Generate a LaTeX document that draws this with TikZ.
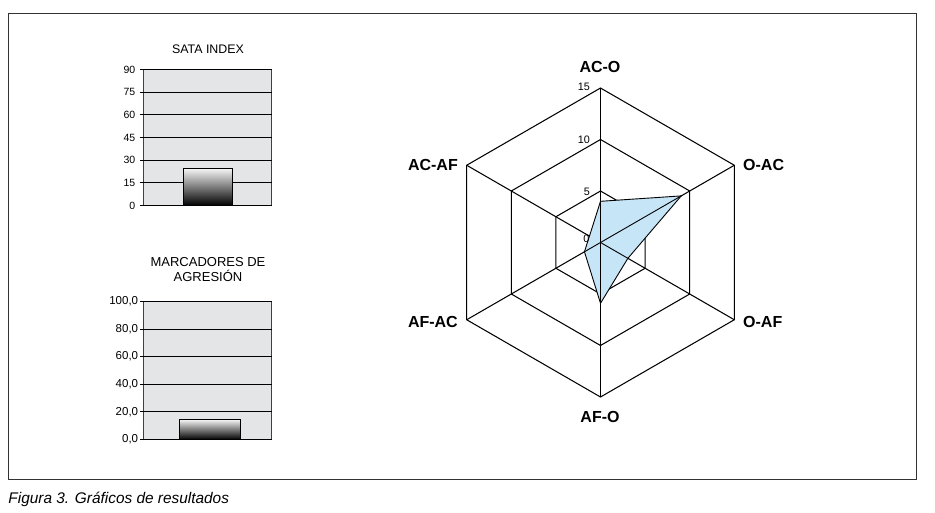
\documentclass[tikz,border=0pt]{standalone}
\usepackage{fontspec}
\setmainfont{Liberation Sans}
\usetikzlibrary{calc}
\definecolor{plotbg}{HTML}{E4E5E7}
\definecolor{datafill}{HTML}{C6E5F6}
\tikzset{
  plotarea/.style={fill=plotbg, draw=black!75, line width=1pt},
  gridln/.style={draw=black, line width=1pt},
  barbox/.style={draw=black, line width=1pt, top color=gray!8, bottom color=black},
  ticklab/.style={anchor=east, inner sep=0pt, font=\fontsize{10.5}{12}\selectfont},
  ticklabb/.style={anchor=east, inner sep=0pt, font=\fontsize{11.5}{13}\selectfont},
  charttitle/.style={inner sep=0pt, align=center, font=\fontsize{12.4}{15}\selectfont},
  radarln/.style={draw=black, line width=1.05pt},
  axlab/.style={inner sep=0pt, font=\fontsize{16}{18}\selectfont\bfseries},
  rtick/.style={anchor=east, inner sep=0pt, font=\fontsize{10.8}{12}\selectfont},
  datapoly/.style={fill=datafill, draw=black, line width=0.9pt, line join=miter},
  framebox/.style={draw=black!80, line width=1pt},
}
\begin{document}
\begin{tikzpicture}[x=1pt,y=-1pt]
\useasboundingbox (0,0) rectangle (935,512);
\fill[white] (0,0) rectangle (935,512);
% frame
\draw[framebox] (8.5,13.5) rectangle (916.5,479.5);
\node[anchor=base west, inner sep=0pt, font=\fontsize{15.4}{17}\selectfont\itshape] (caption) at (8.3,503.3) {Figura 3. Gráficos de resultados};

% ---------- SATA INDEX chart ----------
\node[charttitle] (t1) at (208,49) {SATA INDEX};
\draw[plotarea] (143.5,69.5) rectangle (271.5,205.5);
\foreach \v in {0,15,...,90} {
  \pgfmathsetmacro{\yy}{205.5-\v*136/90}
  \draw[gridln] (140,\yy) -- (271.5,\yy);
  \node[ticklab] at (135.5,\yy) {\v};
}
\draw[barbox] (183.5,168.5) rectangle (232.5,205.5);
\draw[gridln] (140,205.5) -- (271.5,205.5);

% ---------- MARCADORES chart ----------
\node[charttitle, font=\fontsize{13}{15}\selectfont] (t2) at (208,269.2) {MARCADORES DE\\AGRESIÓN};
\draw[plotarea] (143.5,301.5) rectangle (271.5,439.5);
\foreach \v/\lab in {0/{0,0},20/{20,0},40/{40,0},60/{60,0},80/{80,0},100/{100,0}} {
  \pgfmathsetmacro{\yy}{439.5-\v*138/100}
  \draw[gridln] (140,\yy) -- (271.5,\yy);
  \node[ticklabb] at (138.3,\yy) {\lab};
}
\draw[barbox] (179.5,419.5) rectangle (240.5,439.5);
\draw[gridln] (140,439.5) -- (271.5,439.5);

% ---------- Radar chart ----------
\begin{scope}[shift={(600.5,242.5)}]
  \coordinate (C) at (0,0);
  \foreach \i/\a in {1/-90,2/-30,3/30,4/90,5/150,6/210} {
    \coordinate (V\i) at (\a:154.5);
  }
  \foreach \r in {5,10,15} {
    \pgfmathsetmacro{\rr}{\r*10.3}
    \draw[radarln] (-90:\rr) -- (-30:\rr) -- (30:\rr) -- (90:\rr) -- (150:\rr) -- (210:\rr) -- cycle;
  }
  \foreach \i in {1,...,6} { \draw[radarln] (C) -- (V\i); }
  % data polygon
  \draw[datapoly] (-90:4*10.3) -- (-30:9.05*10.3) -- (30:3.07*10.3) -- (90:5.9*10.3) -- (150:1.8*10.3) -- (210:1.24*10.3) -- cycle;
  \draw[radarln, line width=0.9pt] (C) -- (-30:9.05*10.3);
  \draw[radarln, line width=0.9pt] (C) -- (90:5.9*10.3);
  \draw[radarln, line width=0.9pt] (C) -- (150:1.8*10.3);
  \draw[radarln, line width=0.9pt] (C) -- (-90:4*10.3);
  \draw[radarln, line width=0.9pt] (C) -- (30:3.07*10.3);
\end{scope}
% radar tick labels
\node[rtick] (r15) at (590,86.7) {15};
\node[rtick] (r10) at (590,139.3) {10};
\node[rtick] (r5) at (590,191.7) {5};
\node[rtick] (r0) at (589.5,239) {0};
% axis labels
\node[axlab] (acO) at (600,67) {AC-O};
\node[axlab, anchor=west] (oAC) at (743,165) {O-AC};
\node[axlab, anchor=west] (oAF) at (743,322) {O-AF};
\node[axlab] (afO) at (600,417) {AF-O};
\node[axlab, anchor=east] (afAC) at (458,322) {AF-AC};
\node[axlab, anchor=east] (acAF) at (458,165) {AC-AF};
\end{tikzpicture}
\end{document}
